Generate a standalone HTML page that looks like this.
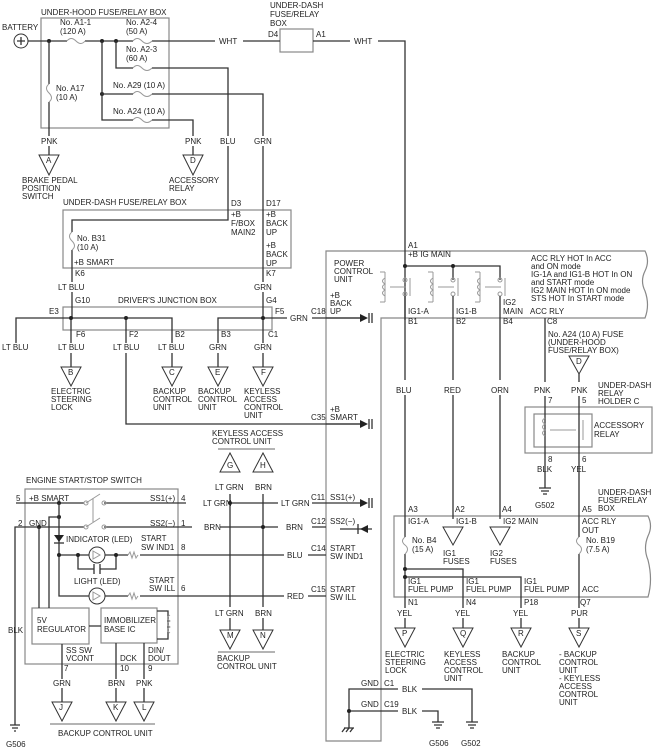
<!DOCTYPE html>
<html><head><meta charset="utf-8"><style>
html,body{margin:0;padding:0;background:#fff}
svg{display:block}
text{font-family:"Liberation Sans",sans-serif;font-size:8px;fill:#222}
.w{stroke:#333;stroke-width:1.3;fill:none}
.b{stroke:#888;stroke-width:1.2;fill:none}
.t{stroke:#333;stroke-width:1;fill:#fff}
.d{fill:#222}
.f{stroke:#999;stroke-width:1;fill:none}
</style></head><body>
<svg width="658" height="756" viewBox="0 0 658 756" xmlns="http://www.w3.org/2000/svg">
<!-- boxes -->
<rect class="b" x="41" y="18" width="128" height="110"/>
<rect class="b" x="63" y="210" width="228" height="58"/>
<rect class="b" x="63" y="307" width="209" height="23"/>
<rect class="b" x="280" y="29" width="33" height="23"/>
<path class="b" d="M326 741 V251 H645 q5 10 0 20 q-5 10 0 20 q5 14 0 27 H381 V741 Z"/>
<rect class="b" x="525" y="407" width="127" height="46"/>
<rect class="b" x="534" y="414" width="58" height="33"/>
<path class="b" d="M394 597 V516 H648 q5 10 0 20 q-5 12 0 24 q5 20 0 37 Z"/>
<rect class="b" x="25" y="489" width="153" height="175"/>
<rect class="b" x="32" y="608" width="57" height="36"/>
<rect class="b" x="101" y="608" width="56" height="35"/>

<!-- top wiring -->
<circle cx="21" cy="41" r="7" class="t"/><path class="w" d="M17 41h8M21 37v8"/>
<path class="w" d="M28 41H67M85 41H133M152 41H215M243 41H280M313 41H350M378 41H405V320"/>
<path class="f" d="M67 41q4-5 9 0t9 0M133 41q4-5 9 0t10 0M133 68q4-5 9 0t10 0M133 94q4-5 9 0t10 0M133 120q4-5 9 0t10 0"/>
<circle class="d" cx="49" cy="41" r="2"/><circle class="d" cx="102" cy="41" r="2"/><circle class="d" cx="116" cy="41" r="2"/><circle class="d" cx="102" cy="94" r="2"/>
<path class="w" d="M49 41V84M49 102V136M49 146V155"/>
<path class="f" d="M49 84q-5 4 0 9t0 9"/>
<path class="w" d="M116 41V68H133M152 68H228V136M228 146V220H72V232M72 250V282M72 292V318"/>
<path class="f" d="M72 232q-5 4 0 9t0 9"/>
<path class="w" d="M102 41V120H133M152 120H193V136M193 146V155"/>
<path class="w" d="M102 94H133M152 94H263V136M263 146V282M263 292V318"/>
<polygon class="t" points="39,155 59,155 49,175"/><text x="46" y="163">A</text>
<polygon class="t" points="183,155 203,155 193,175"/><text x="190" y="163">D</text>

<text x="41" y="15">UNDER-HOOD FUSE/RELAY BOX</text>
<text x="2" y="30">BATTERY</text>
<text x="60" y="25">No. A1-1</text><text x="60" y="34">(120 A)</text>
<text x="126" y="25">No. A2-4</text><text x="126" y="34">(50 A)</text>
<text x="126" y="52">No. A2-3</text><text x="126" y="61">(60 A)</text>
<text x="113" y="88">No. A29 (10 A)</text>
<text x="113" y="114">No. A24 (10 A)</text>
<text x="56" y="91">No. A17</text><text x="56" y="100">(10 A)</text>
<text x="219" y="44">WHT</text><text x="354" y="44">WHT</text>
<text x="270" y="8">UNDER-DASH</text><text x="270" y="17">FUSE/RELAY</text><text x="270" y="26">BOX</text>
<text x="268" y="37">D4</text><text x="316" y="37">A1</text>
<text x="41" y="144">PNK</text><text x="185" y="144">PNK</text><text x="220" y="144">BLU</text><text x="254" y="144">GRN</text>
<text x="22" y="183">BRAKE PEDAL</text><text x="22" y="191">POSITION</text><text x="22" y="199">SWITCH</text>
<text x="169" y="183">ACCESSORY</text><text x="169" y="191">RELAY</text>

<!-- under dash box labels -->
<text x="63" y="205">UNDER-DASH FUSE/RELAY BOX</text>
<text x="231" y="206">D3</text><text x="266" y="206">D17</text>
<text x="231" y="217">+B</text><text x="231" y="226">F/BOX</text><text x="231" y="235">MAIN2</text>
<text x="266" y="217">+B</text><text x="266" y="226">BACK</text><text x="266" y="235">UP</text>
<text x="266" y="248">+B</text><text x="266" y="257">BACK</text><text x="266" y="266">UP</text>
<text x="77" y="241">No. B31</text><text x="77" y="250">(10 A)</text>
<text x="74" y="265">+B SMART</text>
<text x="75" y="276">K6</text><text x="266" y="276">K7</text>
<text x="58" y="290">LT BLU</text><text x="254" y="290">GRN</text>

<!-- driver's junction box -->
<text x="75" y="303">G10</text><text x="118" y="303">DRIVER'S JUNCTION BOX</text><text x="266" y="303">G4</text>
<text x="49" y="314">E3</text><text x="275" y="314">F5</text>
<path class="w" d="M16 343V318H172V343M172 353V367M218 367V353M218 343V318H287M312 318H362"/>
<path class="w" d="M71 318V343M71 353V367M126 318V343M126 353V424H362"/>
<path class="w" d="M263 318V343M263 353V367"/>
<circle class="d" cx="71" cy="318" r="2"/><circle class="d" cx="126" cy="318" r="2"/><circle class="d" cx="263" cy="318" r="2"/>
<text x="76" y="337">F6</text><text x="129" y="337">F2</text><text x="175" y="337">B2</text><text x="221" y="337">B3</text><text x="268" y="337">C1</text>
<text x="290" y="321">GRN</text>
<text x="2" y="350">LT BLU</text><text x="58" y="350">LT BLU</text><text x="113" y="350">LT BLU</text><text x="158" y="350">LT BLU</text><text x="209" y="350">GRN</text><text x="254" y="350">GRN</text>
<polygon class="t" points="61,367 81,367 71,386"/><text x="68" y="375">B</text>
<polygon class="t" points="162,367 182,367 172,386"/><text x="169" y="375">C</text>
<polygon class="t" points="208,367 228,367 218,386"/><text x="215" y="375">E</text>
<polygon class="t" points="253,367 273,367 263,386"/><text x="261" y="375">F</text>
<text x="51" y="394">ELECTRIC</text><text x="51" y="402">STEERING</text><text x="51" y="410">LOCK</text>
<text x="153" y="394">BACKUP</text><text x="153" y="402">CONTROL</text><text x="153" y="410">UNIT</text>
<text x="198" y="394">BACKUP</text><text x="198" y="402">CONTROL</text><text x="198" y="410">UNIT</text>
<text x="244" y="394">KEYLESS</text><text x="244" y="402">ACCESS</text><text x="244" y="410">CONTROL</text><text x="244" y="418">UNIT</text>

<!-- PCU -->
<text x="408" y="248">A1</text><text x="408" y="257">+B IG MAIN</text>
<text x="334" y="266">POWER</text><text x="334" y="274">CONTROL</text><text x="334" y="282">UNIT</text>
<text x="531" y="261">ACC RLY HOT In ACC</text><text x="531" y="269">and ON mode</text><text x="531" y="277">IG-1A and IG1-B HOT In ON</text><text x="531" y="285">and START mode</text><text x="531" y="293">IG2 MAIN HOT In ON mode</text><text x="531" y="301">STS HOT In START mode</text>
<path class="w" d="M405 266H500V280M453 266V280M405 280v0"/>
<circle class="d" cx="405" cy="266" r="2"/><circle class="d" cx="453" cy="266" r="2"/>
<g class="f">
<path d="M385 272v30M380 272h5M380 302h5M385 278q-5 3 0 6q-5 3 0 6q-5 3 0 6M390 287h16M410 278v18"/>
<path d="M433 272v30M428 272h5M428 302h5M433 278q-5 3 0 6q-5 3 0 6q-5 3 0 6M438 287h16M458 278v18"/>
<path d="M480 272v30M475 272h5M475 302h5M480 278q-5 3 0 6q-5 3 0 6q-5 3 0 6M485 287h16M505 278v18"/>
</g>
<circle class="f" cx="405" cy="280" r="2"/><circle class="f" cx="405" cy="294" r="2"/>
<circle class="f" cx="453" cy="280" r="2"/><circle class="f" cx="453" cy="294" r="2"/>
<circle class="f" cx="500" cy="280" r="2"/><circle class="f" cx="500" cy="294" r="2"/>
<path class="w" d="M405 296V380M405 395V519M453 296V380M453 395V519M500 296V380M500 395V519"/>
<text x="408" y="314">IG1-A</text><text x="456" y="314">IG1-B</text><text x="503" y="305">IG2</text><text x="503" y="314">MAIN</text><text x="530" y="314">ACC RLY</text>
<text x="408" y="324">B1</text><text x="456" y="324">B2</text><text x="503" y="324">B4</text><text x="547" y="324">C8</text>
<text x="396" y="393">BLU</text><text x="444" y="393">RED</text><text x="491" y="393">ORN</text>
<text x="534" y="393">PNK</text><text x="571" y="393">PNK</text>
<text x="548" y="337">No. A24 (10 A) FUSE</text><text x="548" y="345">(UNDER-HOOD</text><text x="548" y="353">FUSE/RELAY BOX)</text>
<polygon class="t" points="569,356 589,356 579,374"/><text x="576" y="364">D</text>
<text x="598" y="388">UNDER-DASH</text><text x="598" y="396">RELAY</text><text x="598" y="404">HOLDER C</text>
<text x="548" y="403">7</text><text x="582" y="403">5</text>
<text x="594" y="428">ACCESSORY</text><text x="594" y="437">RELAY</text>
<text x="548" y="462">8</text><text x="582" y="462">6</text>
<text x="537" y="472">BLK</text><text x="571" y="472">YEL</text>
<path class="w" d="M545 318V382M545 396V488M579 374V382M579 396V512"/>
<path class="f" d="M545 418q-5 3 0 6q-5 3 0 6q-5 3 0 6M550 430h26M583 420v20"/>
<path class="w" d="M539 488h12M541 491h8M543 494h4"/>
<text x="535" y="508">G502</text>
<text x="598" y="495">UNDER-DASH</text><text x="598" y="503">FUSE/RELAY</text><text x="598" y="511">BOX</text>

<!-- arrows into PCU -->
<g class="w"><path d="M326 318H360M326 424H360M326 503H360M340 529H372M326 555H326"/></g>
<g class="d">
<polygon points="360,314 368,318 360,322"/><polygon points="360,420 368,424 360,428"/><polygon points="360,499 368,503 360,507"/><polygon points="368,525 360,529 368,533"/>
</g>
<path class="w" d="M369 313v10M372 313v10M369 419v10M372 419v10M369 498v10M372 498v10M358 524v10"/>
<text x="330" y="298">+B</text><text x="330" y="306">BACK</text><text x="330" y="314">UP</text><text x="311" y="314">C18</text>
<text x="330" y="412">+B</text><text x="330" y="420">SMART</text><text x="311" y="420">C35</text>

<!-- lower under-dash -->
<text x="408" y="512">A3</text><text x="455" y="512">A2</text><text x="502" y="512">A4</text><text x="582" y="512">A5</text>
<text x="408" y="524">IG1-A</text><text x="456" y="524">IG1-B</text><text x="503" y="524">IG2 MAIN</text><text x="582" y="524">ACC RLY</text><text x="582" y="533">OUT</text>
<polygon class="t" points="443,527 463,527 453,545"/><polygon class="t" points="490,527 510,527 500,545"/>
<text x="443" y="556">IG1</text><text x="443" y="564">FUSES</text><text x="490" y="556">IG2</text><text x="490" y="564">FUSES</text>
<path class="w" d="M405 519V537M405 554V608M405 618V628M405 569H463V608M463 618V628M405 577H521V608M521 618V628M579 512V537M579 554V608M579 618V628"/>
<path class="f" d="M405 537q-5 4 0 8t0 9M579 537q-5 4 0 8t0 9"/>
<circle class="d" cx="405" cy="569" r="2"/><circle class="d" cx="405" cy="577" r="2"/>
<text x="412" y="543">No. B4</text><text x="412" y="552">(15 A)</text>
<text x="586" y="543">No. B19</text><text x="586" y="552">(7.5 A)</text>
<text x="408" y="584">IG1</text><text x="408" y="592">FUEL PUMP</text><text x="466" y="584">IG1</text><text x="466" y="592">FUEL PUMP</text><text x="524" y="584">IG1</text><text x="524" y="592">FUEL PUMP</text><text x="582" y="592">ACC</text>
<text x="408" y="605">N1</text><text x="466" y="605">N4</text><text x="524" y="605">P18</text><text x="580" y="605">Q7</text>
<text x="397" y="616">YEL</text><text x="455" y="616">YEL</text><text x="513" y="616">YEL</text><text x="571" y="616">PUR</text>
<polygon class="t" points="395,628 415,628 405,647"/><text x="402" y="636">P</text>
<polygon class="t" points="453,628 473,628 463,647"/><text x="460" y="636">Q</text>
<polygon class="t" points="511,628 531,628 521,647"/><text x="518" y="636">R</text>
<polygon class="t" points="569,628 589,628 579,647"/><text x="576" y="636">S</text>
<text x="385" y="657">ELECTRIC</text><text x="385" y="665">STEERING</text><text x="385" y="673">LOCK</text>
<text x="444" y="657">KEYLESS</text><text x="444" y="665">ACCESS</text><text x="444" y="673">CONTROL</text><text x="444" y="681">UNIT</text>
<text x="502" y="657">BACKUP</text><text x="502" y="665">CONTROL</text><text x="502" y="673">UNIT</text>
<text x="559" y="657">- BACKUP</text><text x="559" y="665">CONTROL</text><text x="559" y="673">UNIT</text><text x="559" y="681">- KEYLESS</text><text x="559" y="689">ACCESS</text><text x="559" y="697">CONTROL</text><text x="559" y="705">UNIT</text>

<!-- gnd -->
<text x="361" y="686">GND</text><text x="384" y="686">C1</text><text x="361" y="707">GND</text><text x="384" y="707">C19</text>
<text x="402" y="692">BLK</text><text x="402" y="714">BLK</text>
<path class="w" d="M349 728V689H398M422 689H472V722M349 711H398M422 711H438V722"/>
<circle class="d" cx="349" cy="711" r="2"/>
<path class="w" d="M344 728h10M345 728l-3 4M349 728l-3 4M353 728l-3 4"/>
<path class="w" d="M432 722h12M434 725h8M436 728h4M466 722h12M468 725h8M470 728h4"/>
<text x="429" y="746">G506</text><text x="461" y="746">G502</text>

<!-- engine start/stop -->
<text x="26" y="483">ENGINE START/STOP SWITCH</text>
<text x="16" y="501">5</text><text x="29" y="501">+B SMART</text><text x="150" y="501">SS1(+)</text><text x="181" y="501">4</text>
<text x="18" y="526">2</text><text x="29" y="526">GND</text><text x="150" y="526">SS2(−)</text><text x="181" y="526">1</text>
<path class="w" d="M16 503H84M104 503H186M230 503H278M312 503H326"/>
<path class="w" d="M15 725V527H84M104 527H192M220 527H278M312 527H326"/>
<path class="f" d="M86 503L100 494M86 527L100 518M93 498V522"/>
<circle class="f" cx="86" cy="503" r="2"/><circle class="f" cx="104" cy="503" r="2"/><circle class="f" cx="86" cy="527" r="2"/><circle class="f" cx="104" cy="527" r="2"/>
<text x="203" y="506">LT GRN</text><text x="204" y="530">BRN</text><text x="281" y="506">LT GRN</text><text x="286" y="530">BRN</text>
<text x="311" y="500">C11</text><text x="330" y="500">SS1(+)</text><text x="311" y="524">C12</text><text x="330" y="524">SS2(−)</text>
<circle class="d" cx="59" cy="503" r="2"/><circle class="d" cx="59" cy="517" r="2"/><circle class="d" cx="39" cy="527" r="2"/>
<path class="w" d="M59 503V596H89M49 608V517H59M39 527V608"/>
<polygon class="d" points="54,535 64,535 59,542"/><path class="w" d="M54 543h10"/>
<path class="w" d="M59 555H89M105 555H128M140 555H284M308 555H326M78 555V569H94M100 569H116V555M105 596H128M140 596H284M308 596H326"/>
<path class="w" d="M94 564v10M100 564v10"/>
<circle class="d" cx="59" cy="555" r="2"/><circle class="d" cx="78" cy="555" r="2"/><circle class="d" cx="116" cy="555" r="2"/>
<circle class="t" cx="97" cy="555" r="8"/><circle class="t" cx="97" cy="596" r="8"/>
<path class="f" d="M93 551l7 4-7 4zM93 592l7 4-7 4zM128 555l2-3 2 6 2-6 2 6 2-3M128 596l2-3 2 6 2-6 2 6 2-3"/>
<text x="66" y="542">INDICATOR (LED)</text><text x="141" y="541">START</text><text x="141" y="550">SW IND1</text><text x="181" y="550">8</text>
<text x="74" y="584">LIGHT (LED)</text><text x="149" y="583">START</text><text x="149" y="591">SW ILL</text><text x="181" y="591">6</text>
<text x="287" y="558">BLU</text><text x="287" y="599">RED</text>
<text x="311" y="551">C14</text><text x="330" y="551">START</text><text x="330" y="559">SW IND1</text>
<text x="311" y="592">C15</text><text x="330" y="592">START</text><text x="330" y="600">SW ILL</text>
<text x="37" y="623">5V</text><text x="37" y="632">REGULATOR</text>
<text x="104" y="623">IMMOBILIZER</text><text x="104" y="632">BASE IC</text>
<path class="w" d="M89 626H101M157 611H168V639H157"/>
<path class="f" d="M170 615q-5 3 0 6q-5 3 0 6q-5 3 0 6"/>
<path class="w" d="M62 644V679M62 688V702M116 643V679M116 688V702M144 643V679M144 688V702"/>
<text x="66" y="653">SS SW</text><text x="66" y="661">VCONT</text><text x="120" y="661">DCK</text><text x="148" y="653">DIN/</text><text x="148" y="661">DOUT</text>
<text x="64" y="671">7</text><text x="120" y="671">10</text><text x="148" y="671">9</text>
<text x="53" y="686">GRN</text><text x="108" y="686">BRN</text><text x="136" y="686">PNK</text>
<polygon class="t" points="52,702 72,702 62,721"/><text x="59" y="710">J</text>
<polygon class="t" points="106,702 126,702 116,721"/><text x="113" y="710">K</text>
<polygon class="t" points="134,702 154,702 144,721"/><text x="142" y="710">L</text>
<path class="b" d="M50 724H155"/>
<text x="58" y="736">BACKUP CONTROL UNIT</text>
<text x="8" y="633">BLK</text>
<path class="w" d="M10 725h10M12 728h6M14 731h2"/>
<text x="6" y="747">G506</text>

<!-- keyless access -->
<text x="212" y="436">KEYLESS ACCESS</text><text x="212" y="444">CONTROL UNIT</text>
<path class="b" d="M218 449H275"/>
<polygon class="t" points="220,472 240,472 230,453"/><text x="227" y="468">G</text>
<polygon class="t" points="253,472 273,472 263,453"/><text x="260" y="468">H</text>
<text x="215" y="490">LT GRN</text><text x="255" y="490">BRN</text>
<text x="215" y="616">LT GRN</text><text x="255" y="616">BRN</text>
<path class="w" d="M230 494V607M230 618V630M263 494V607M263 618V630"/>
<circle class="d" cx="230" cy="503" r="2"/><circle class="d" cx="263" cy="527" r="2"/>
<polygon class="t" points="220,630 240,630 230,649"/><text x="227" y="638">M</text>
<polygon class="t" points="253,630 273,630 263,649"/><text x="260" y="638">N</text>
<path class="b" d="M218 652H275"/>
<text x="217" y="661">BACKUP</text><text x="217" y="669">CONTROL UNIT</text>
</svg>
</body></html>
